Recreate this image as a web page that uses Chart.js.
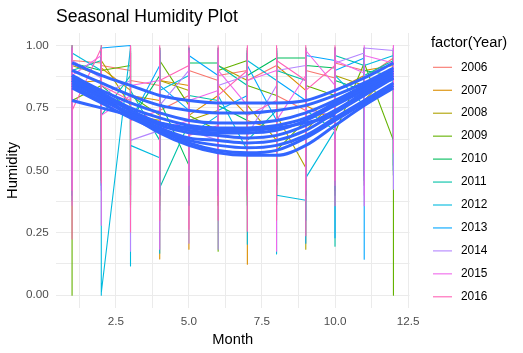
<!DOCTYPE html>
<html>
<head>
<meta charset="utf-8">
<script src="https://cdn.jsdelivr.net/npm/chart.js@4/dist/chart.umd.min.js"></script>
<style>
  body { margin: 0; background: #fff; }
  #wrap { width: 523px; height: 353px; }
</style>
</head>
<body>
<div id="wrap"><canvas id="humidity" width="523" height="353"></canvas></div>
<script>
// years and the ggplot hue colours that go with them
const years = [2006, 2007, 2008, 2009, 2010, 2011, 2012, 2013, 2014, 2015, 2016];
const yearColors = ['#F8766D', '#DB8E00', '#AEA200', '#64B200', '#00BD5C', '#00C1A7',
                    '#00BADE', '#00A6FF', '#B385FF', '#EF67EB', '#FF63B6'];

// per month (1..12): first reading, lowest, highest and last reading of each year
const monthFirst = [
  [0.88, 0.93, 0.90, 0.84, 0.80, 0.86, 0.90, 0.92, 0.74, 0.87, 0.90, 0.95],
  [0.91, 0.86, 0.82, 0.78, 0.84, 0.80, 0.72, 0.66, 0.82, 0.70, 0.88, 0.92],
  [0.95, 0.88, 0.76, 0.70, 0.82, 0.74, 0.86, 0.62, 0.51, 0.78, 0.84, 0.90],
  [0.92, 0.84, 0.92, 0.72, 0.76, 0.66, 0.94, 0.80, 0.70, 0.80, 0.93, 0.62],
  [0.86, 0.90, 0.74, 0.88, 0.52, 0.93, 0.70, 0.95, 0.95, 0.91, 0.82, 0.88],
  [0.84, 0.94, 0.88, 0.62, 0.69, 0.78, 0.84, 0.74, 0.86, 0.66, 0.92, 0.94],
  [0.99, 0.90, 0.99, 0.55, 0.88, 0.72, 0.58, 0.86, 0.38, 0.66, 0.76, 0.96],
  [0.96, 0.80, 1.00, 0.92, 0.74, 0.88, 0.80, 0.70, 0.78, 0.94, 0.95, 0.86],
  [0.90, 0.87, 0.86, 0.66, 0.90, 0.62, 0.88, 0.84, 0.92, 0.72, 0.97, 0.98],
  [0.82, 0.96, 0.80, 0.86, 0.70, 0.82, 0.76, 0.90, 0.88, 0.84, 0.89, 0.93],
  [0.95, 0.99, 0.78, 0.74, 0.92, 0.68, 0.90, 0.78, 0.86, 0.92]
];
const monthLow = [
  [0.42, 0.50, 0.38, 0.36, 0.40, 0.44, 0.40, 0.42, 0.38, 0.45, 0.48, 0.52],
  [0.40, 0.46, 0.35, 0.145, 0.184, 0.40, 0.124, 0.44, 0.40, 0.42, 0.46, 0.50],
  [0.44, 0.48, 0.40, 0.38, 0.42, 0.36, 0.38, 0.40, 0.184, 0.44, 0.50, 0.48],
  [0.00, 0.52, 0.42, 0.40, 0.36, 0.176, 0.42, 0.38, 0.40, 0.46, 0.44, 0.00],
  [0.46, 0.44, 0.36, 0.42, 0.40, 0.42, 0.36, 0.44, 0.42, 0.40, 0.50, 0.52],
  [0.38, 0.46, 0.44, 0.34, 0.38, 0.40, 0.42, 0.36, 0.44, 0.196, 0.48, 0.50],
  [0.40, 0.00, 0.117, 0.168, 0.38, 0.42, 0.204, 0.165, 0.30, 0.42, 0.46, 0.48],
  [0.44, 0.42, 0.38, 0.40, 0.36, 0.40, 0.44, 0.40, 0.208, 0.23, 0.144, 0.50],
  [0.36, 0.48, 0.176, 0.42, 0.208, 0.184, 0.40, 0.42, 0.38, 0.44, 0.40, 0.424],
  [0.42, 0.28, 0.40, 0.184, 0.44, 0.38, 0.40, 0.176, 0.42, 0.46, 0.358, 0.57],
  [0.225, 0.45, 0.253, 0.30, 0.264, 0.30, 0.256, 0.30, 0.238, 0.358]
];
const monthHigh = [
  [0.99, 0.98, 1.00, 0.97, 0.99, 0.98, 0.97, 0.99, 0.98, 0.99, 0.98, 1.00],
  [0.98, 0.99, 0.97, 0.99, 0.98, 0.97, 0.98, 0.99, 0.97, 0.98, 0.99, 0.98],
  [1.00, 0.99, 0.98, 0.97, 0.99, 0.98, 0.99, 0.97, 0.98, 0.99, 0.98, 0.97],
  [0.99, 0.98, 0.99, 0.98, 0.97, 0.99, 0.98, 0.97, 0.99, 0.98, 0.97, 0.99],
  [0.98, 1.00, 0.97, 0.99, 0.98, 0.99, 0.97, 0.98, 0.99, 0.97, 0.99, 0.98],
  [0.97, 0.99, 0.98, 0.99, 0.97, 0.98, 0.99, 0.98, 0.97, 0.99, 0.98, 0.99],
  [1.00, 0.99, 1.00, 0.98, 0.99, 0.97, 0.98, 0.99, 0.98, 0.97, 0.99, 0.98],
  [0.99, 0.99, 1.00, 0.98, 0.99, 0.98, 0.97, 0.99, 0.98, 0.99, 0.97, 0.99],
  [0.98, 0.97, 0.99, 0.98, 0.97, 0.99, 0.98, 0.98, 0.99, 0.98, 0.99, 0.99],
  [0.99, 0.98, 0.97, 0.99, 0.98, 0.98, 0.99, 0.97, 0.98, 0.99, 1.00, 1.00],
  [1.00, 1.00, 1.00, 1.00, 1.00, 1.00, 1.00, 1.00, 1.00, 1.00]
];
const monthLast = [
  [0.94, 0.92, 0.86, 0.74, 0.90, 0.88, 0.86, 0.80, 0.90, 0.93, 0.87, 0.92],
  [0.85, 0.91, 0.80, 0.86, 0.72, 0.84, 0.70, 0.92, 0.76, 0.82, 0.90, 0.88],
  [0.92, 0.94, 0.72, 0.86, 0.70, 0.92, 0.76, 0.72, 0.66, 0.88, 0.78, 0.86],
  [0.78, 0.90, 0.80, 0.94, 0.72, 0.90, 0.84, 0.58, 0.84, 0.65, 0.93, 0.70],
  [0.93, 0.84, 0.70, 0.78, 0.93, 0.76, 0.88, 0.95, 0.92, 0.86, 0.90, 0.84],
  [0.90, 0.72, 0.82, 0.43, 0.80, 0.92, 0.62, 0.90, 0.74, 0.96, 0.88, 0.90],
  [0.97, 0.01, 0.60, 0.82, 0.64, 0.80, 0.94, 0.40, 0.47, 0.88, 0.92, 0.95],
  [0.86, 0.99, 0.70, 0.84, 0.96, 0.74, 0.92, 0.86, 0.96, 0.90, 0.84, 0.92],
  [0.94, 0.80, 0.62, 0.76, 0.66, 0.84, 0.64, 0.90, 0.74, 0.93, 0.99, 0.96],
  [0.88, 0.72, 0.84, 0.66, 0.78, 0.90, 0.86, 0.70, 0.98, 0.94, 0.96, 0.90],
  [0.74, 0.84, 0.70, 0.86, 0.64, 0.80, 0.72, 0.94, 0.82, 0.90]
];

// loess trend per year, read at each month
const smoothFit = [
  [0.93, 0.88, 0.84, 0.80, 0.78, 0.77, 0.77, 0.77, 0.78, 0.82, 0.87, 0.93],
  [0.90, 0.85, 0.80, 0.76, 0.74, 0.73, 0.73, 0.74, 0.76, 0.80, 0.85, 0.91],
  [0.88, 0.82, 0.77, 0.73, 0.70, 0.69, 0.69, 0.70, 0.73, 0.78, 0.84, 0.90],
  [0.87, 0.81, 0.75, 0.71, 0.68, 0.67, 0.67, 0.68, 0.71, 0.77, 0.83, 0.89],
  [0.86, 0.80, 0.74, 0.69, 0.66, 0.65, 0.65, 0.66, 0.70, 0.76, 0.82, 0.88],
  [0.84, 0.78, 0.73, 0.68, 0.65, 0.64, 0.63, 0.64, 0.68, 0.74, 0.81, 0.87],
  [0.85, 0.79, 0.72, 0.67, 0.63, 0.62, 0.61, 0.62, 0.66, 0.73, 0.80, 0.87],
  [0.83, 0.77, 0.71, 0.66, 0.62, 0.60, 0.59, 0.60, 0.64, 0.71, 0.78, 0.85],
  [0.86, 0.79, 0.72, 0.66, 0.61, 0.58, 0.57, 0.58, 0.63, 0.70, 0.77, 0.84],
  [0.88, 0.80, 0.72, 0.65, 0.60, 0.57, 0.56, 0.56, 0.60, 0.68, 0.76, 0.83],
  [0.78, 0.75, 0.72, 0.69, 0.67, 0.66, 0.66, 0.67, 0.69, 0.72]
];

const xTicks = [1.25, 2.5, 3.75, 5, 6.25, 7.5, 8.75, 10, 11.25, 12.5];
const xLabels = [2.5, 5, 7.5, 10, 12.5];
const yTicks = [0, 0.125, 0.25, 0.375, 0.5, 0.625, 0.75, 0.875, 1];
const yLabels = [0, 0.25, 0.5, 0.75, 1];

Chart.defaults.font.family = "'Liberation Sans', Arial, sans-serif";

const datasets = [];
years.forEach(function (year, i) {
  const pts = [];
  monthFirst[i].forEach(function (v, m) {
    pts.push({ x: m + 1, y: v });
    pts.push({ x: m + 1, y: monthLow[i][m] });
    pts.push({ x: m + 1, y: monthHigh[i][m] });
    pts.push({ x: m + 1, y: monthLast[i][m] });
  });
  datasets.push({
    label: String(year),
    data: pts,
    borderColor: yearColors[i],
    borderWidth: 1.1,
    borderJoinStyle: 'round',
    pointRadius: 0,
    tension: 0,
    order: 20 + (2016 - year)
  });
});
years.forEach(function (year, i) {
  datasets.push({
    label: 'smooth ' + year,
    data: smoothFit[i].map(function (v, m) { return { x: m + 1, y: v }; }),
    borderColor: '#3366FF',
    borderWidth: 3,
    pointRadius: 0,
    cubicInterpolationMode: 'monotone',
    order: i
  });
});

// ggplot-style title and legend
const ggExtras = {
  id: 'ggExtras',
  afterDraw: function (chart) {
    const ctx = chart.ctx;
    ctx.save();
    ctx.fillStyle = '#000';
    ctx.textAlign = 'left';
    ctx.textBaseline = 'alphabetic';
    ctx.font = "17.6px 'Liberation Sans', Arial, sans-serif";
    ctx.fillText('Seasonal Humidity Plot', 56, 21.5);

    ctx.textBaseline = 'middle';
    ctx.font = "14.7px 'Liberation Sans', Arial, sans-serif";
    ctx.fillText('factor(Year)', 431, 43);
    ctx.font = "11.9px 'Liberation Sans', Arial, sans-serif";
    years.forEach(function (year, i) {
      const y = 67.3 + i * 22.95;
      ctx.strokeStyle = yearColors[i];
      ctx.lineWidth = 1.1;
      ctx.beginPath();
      ctx.moveTo(433, y);
      ctx.lineTo(452, y);
      ctx.stroke();
      ctx.fillText(String(year), 461, y);
    });
    ctx.restore();
  }
};

new Chart(document.getElementById('humidity').getContext('2d'), {
  type: 'line',
  data: { datasets: datasets },
  options: {
    responsive: false,
    animation: false,
    layout: { padding: { top: 33, right: 113.5, left: 0, bottom: 0 } },
    plugins: { legend: { display: false }, tooltip: { enabled: false } },
    scales: {
      x: {
        type: 'linear',
        min: 0.45,
        max: 12.55,
        afterBuildTicks: function (s) { s.ticks = xTicks.map(function (v) { return { value: v }; }); },
        afterFit: function (s) { s.height = 45.3; },
        ticks: {
          autoSkip: false,
          maxRotation: 0,
          padding: 7.3,
          color: '#4D4D4D',
          font: { size: 11.7 },
          callback: function (v) { return xLabels.includes(v) ? v.toFixed(1) : ''; }
        },
        grid: { color: '#EBEBEB', lineWidth: 1, drawTicks: false },
        border: { display: false },
        title: { display: true, text: 'Month', color: '#000', font: { size: 14.7 }, padding: { top: 0, bottom: 4.2 } }
      },
      y: {
        min: -0.05,
        max: 1.05,
        afterBuildTicks: function (s) { s.ticks = yTicks.map(function (v) { return { value: v }; }); },
        afterFit: function (s) { s.width = 56; },
        ticks: {
          autoSkip: false,
          padding: 7.3,
          color: '#4D4D4D',
          font: { size: 11.7 },
          callback: function (v) { return yLabels.includes(v) ? v.toFixed(2) : ''; }
        },
        grid: { color: '#EBEBEB', lineWidth: 1, drawTicks: false },
        border: { display: false },
        title: { display: true, text: 'Humidity', color: '#000', font: { size: 14.7 }, padding: { top: 4.2, bottom: 0 } }
      }
    }
  },
  plugins: [ggExtras]
});
</script>
</body>
</html>
